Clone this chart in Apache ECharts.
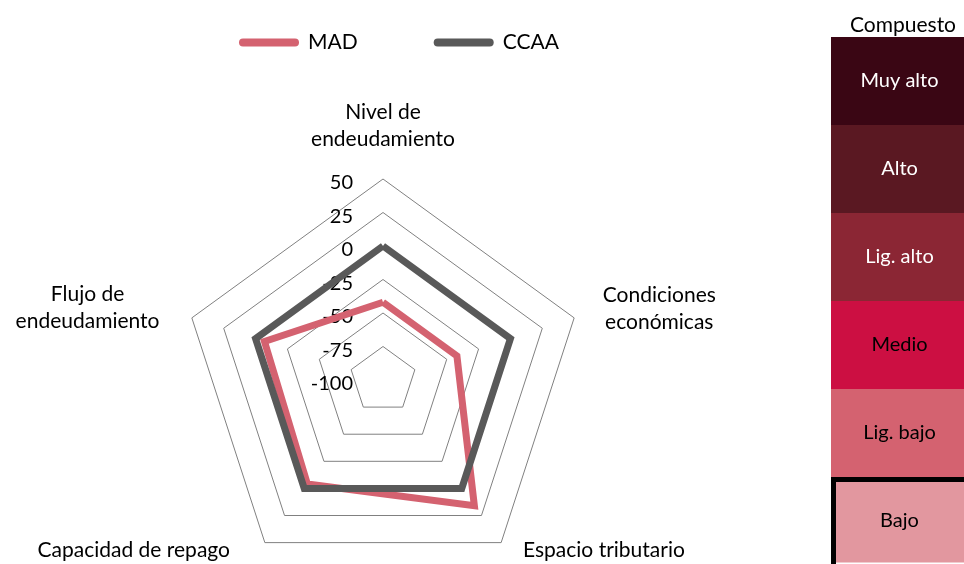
<!DOCTYPE html>
<html>
<head>
<meta charset="utf-8">
<script src="https://cdn.jsdelivr.net/npm/echarts@6/dist/echarts.min.js"></script>
<style>
html,body{margin:0;padding:0;background:#fff;overflow:hidden;}
#c{width:964px;height:564px;}
</style>
</head>
<body>
<div id="c"></div>
<script>
// Radar indicators (counterclockwise from top)
const indicatorNames = ['Nivel de\nendeudamiento', 'Flujo de\nendeudamiento', 'Capacidad de repago', 'Espacio tributario', 'Condiciones\necon\u00f3micas'];
const axisMin = -100;
const axisMax = 50;
const seriesNames = ['MAD', 'CCAA'];
const madValues = [-42, -7, -4, 16, -42];
const ccaaValues = [0, 0, 0, 0, 0];
const seriesColors = ['#d46270', '#595959'];

// Composite scale panel
const scaleTitle = 'Compuesto';
const scaleCategories = ['Muy alto', 'Alto', 'Lig. alto', 'Medio', 'Lig. bajo', 'Bajo'];
const scaleColors = ['#3a0614', '#5a1822', '#8b2634', '#cc0f42', '#d46270', '#e2979f'];
const scaleTextColors = ['#ffffff', '#ffffff', '#ffffff', '#000000', '#000000', '#000000'];
const scaleSelected = 'Bajo';

const FONT = 'Lato';

// panel geometry (styling)
const PANEL_LEFT = 831, PANEL_TOP = 37, PANEL_W = 160, PANEL_H = 528, BORDER = 5;

const nameLayout = [
  { nameGap: 26, nameTextStyle: {} },
  { nameGap: 34, nameTextStyle: {} },
  { nameGap: 10, nameTextStyle: { padding: [0, 29, 0, 0] } },
  { nameGap: 10, nameTextStyle: { padding: [0, 0, 0, 16] } },
  { nameGap: 30, nameTextStyle: {} }
];

const indicator = indicatorNames.map((n, i) => {
  const o = {
    name: n,
    min: axisMin,
    max: axisMax,
    nameGap: nameLayout[i].nameGap,
    nameTextStyle: nameLayout[i].nameTextStyle
  };
  if (i === 0) {
    o.axisLabel = { show: true, margin: 30, fontSize: 20, color: '#000', fontFamily: FONT,
      formatter: '{v|{value}}',
      rich: { v: { fontSize: 20, color: '#000', fontFamily: FONT, padding: [8, 0, 0, 0] } },
      showMinLabel: true, showMaxLabel: true };
  }
  return o;
});

function barData(borderDash, labelOffset) {
  return scaleCategories.map((c, i) => ({
    value: 1,
    itemStyle: c === scaleSelected
      ? Object.assign({ color: scaleColors[i], borderColor: '#000', borderWidth: BORDER, borderCap: 'square' },
          borderDash ? { borderType: borderDash } : {})
      : { color: scaleColors[i] },
    label: { color: scaleTextColors[i], offset: labelOffset || [0, 0] }
  }));
}

const chart = echarts.init(document.getElementById('c'), null, { renderer: 'canvas' });
chart.setOption({
  animation: false,
  textStyle: { fontFamily: FONT },
  title: {
    text: scaleTitle,
    left: 898,
    top: 10,
    textAlign: 'center',
    textStyle: { fontSize: 21, fontWeight: 'normal', color: '#000', fontFamily: FONT }
  },
  legend: {
    data: seriesNames,
    left: 234,
    top: 27,
    itemWidth: 60,
    itemHeight: 8,
    itemGap: 76,
    icon: 'path://M4,0 L56,0 A4,4 0 0 1 56,8 L4,8 A4,4 0 0 1 4,0 Z',
    textStyle: { fontSize: 21, color: '#000', fontFamily: FONT, padding: [0, 0, 0, 4] }
  },
  radar: {
    center: [383, 380],
    radius: 201,
    startAngle: 90,
    splitNumber: 6,
    shape: 'polygon',
    indicator: indicator,
    axisName: {
      color: '#000',
      fontSize: 21,
      fontFamily: FONT,
      lineHeight: 27,
      formatter: function (name) {
        return name.split('\n').map(s => '{c|' + s + '}').join('\n');
      },
      rich: { c: { align: 'center', fontSize: 21, lineHeight: 27, color: '#000', fontFamily: FONT } }
    },
    axisLine: { show: false },
    axisTick: { show: false },
    splitArea: { show: false },
    splitLine: { lineStyle: { color: '#808080', width: 1 } }
  },
  grid: { left: PANEL_LEFT, top: PANEL_TOP, width: PANEL_W, height: PANEL_H, outerBoundsMode: 'none', containLabel: false },
  xAxis: { type: 'value', min: 0, max: 1, show: false },
  yAxis: { type: 'category', data: scaleCategories, inverse: true, show: false },
  series: [
    {
      type: 'radar',
      symbol: 'none',
      data: [
        { name: seriesNames[0], value: madValues,
          lineStyle: { color: seriesColors[0], width: 7, join: 'miter' },
          itemStyle: { color: seriesColors[0] } },
        { name: seriesNames[1], value: ccaaValues,
          lineStyle: { color: seriesColors[1], width: 7, join: 'miter' },
          itemStyle: { color: seriesColors[1] } }
      ]
    },
    {
      type: 'bar',
      barWidth: '100%',
      barCategoryGap: 0,
      silent: true,
      data: barData(null, null),
      label: {
        show: true,
        position: 'inside',
        fontSize: 20,
        fontFamily: FONT,
        formatter: '{b}'
      }
    }
  ]
});

// Second pass: border only on top and left edges of the selected block; centre labels in the visible part
(function () {
  const data = chart.getModel().getSeriesByIndex(1).getData();
  const idx = scaleCategories.indexOf(scaleSelected);
  const lay = data.getItemLayout(idx);
  if (!lay) return;
  const w = Math.abs(lay.width) - BORDER;
  const h = Math.abs(lay.height) - BORDER;
  const dash = [w, h + w, h + BORDER];
  const barLeft = Math.min(lay.x, lay.x + lay.width);
  const barCenter = barLeft + Math.abs(lay.width) / 2;
  const visibleCenter = (PANEL_LEFT + chart.getWidth()) / 2 + 2;
  chart.setOption({ series: [{}, { data: barData(dash, [visibleCenter - barCenter, 0]) }] });
})();
</script>
</body>
</html>
